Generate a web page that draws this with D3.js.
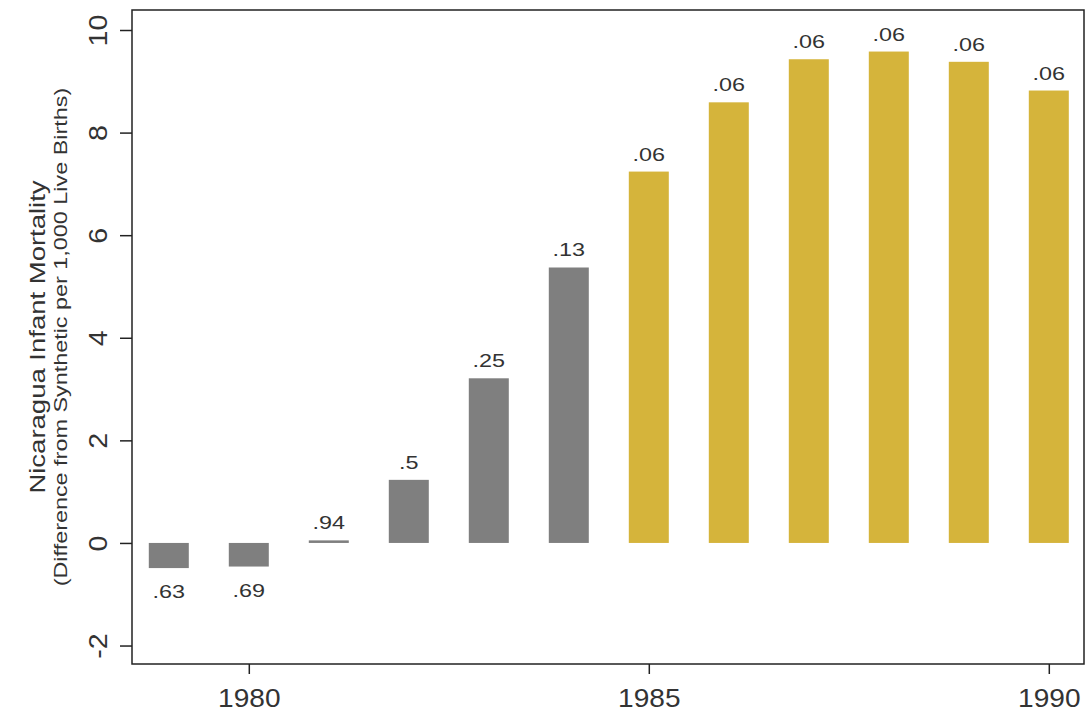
<!DOCTYPE html>
<html>
<head>
<meta charset="utf-8">
<script src="https://cdnjs.cloudflare.com/ajax/libs/d3/7.8.5/d3.min.js"></script>
<style>
  body { margin: 0; background: #fff; }
  svg text { font-family: "Liberation Sans", Arial, Helvetica, sans-serif; fill: #333; }
</style>
</head>
<body>
<svg id="chart" width="1086" height="717"></svg>
<script>
// Gap between Nicaragua and its synthetic control, infant deaths per 1,000 live births
const years = [1979, 1980, 1981, 1982, 1983, 1984, 1985, 1986, 1987, 1988, 1989, 1990];
const gaps = [-0.49, -0.46, 0.05, 1.23, 3.21, 5.37, 7.24, 8.59, 9.43, 9.58, 9.38, 8.82];
// p-values printed next to each bar
const pLabels = [".63", ".69", ".94", ".5", ".25", ".13", ".06", ".06", ".06", ".06", ".06", ".06"];
const treatmentYear = 1985;
const yTickValues = [-2, 0, 2, 4, 6, 8, 10];
const xTickValues = [1980, 1985, 1990];
const yTitle = "Nicaragua Infant Mortality";
const ySubtitle = "(Difference from Synthetic per 1,000 Live Births)";

const plot = { left: 132, right: 1084, top: 10, bottom: 664 };

const svg = d3.select("#chart");

const x = d3.scaleLinear().domain([1978.54, 1990.44]).range([plot.left, plot.right]);
const y = d3.scaleLinear().domain([-2.36, 10.39]).range([plot.bottom, plot.top]);
const barW = x(1979.5) - x(1979);   // half a year wide

const rows = years.map((yr, i) => ({ year: yr, gap: gaps[i], p: pLabels[i] }));

// bars
svg.append("g").selectAll("rect").data(rows).join("rect")
  .attr("x", d => x(d.year) - barW / 2)
  .attr("width", barW)
  .attr("y", d => y(Math.max(0, d.gap)))
  .attr("height", d => Math.abs(y(d.gap) - y(0)))
  .attr("fill", d => d.year >= treatmentYear ? "#d5b43b" : "#7f7f7f");

// p-value labels
svg.append("g").selectAll("text").data(rows).join("text")
  .attr("transform", d => {
    const ty = d.gap >= 0 ? y(d.gap) - 11 : y(d.gap) + 30;
    return `translate(${x(d.year)},${ty}) scale(1.3,1)`;
  })
  .attr("text-anchor", "middle")
  .attr("font-size", 18)
  .text(d => d.p);

// frame
svg.append("rect")
  .attr("x", plot.left).attr("y", plot.top)
  .attr("width", plot.right - plot.left).attr("height", plot.bottom - plot.top)
  .attr("fill", "none").attr("stroke", "#222").attr("stroke-width", 1.5);

const fmt = d => String(d);

// y axis
const yAxis = d3.axisLeft(y).tickValues(yTickValues).tickSize(12).tickFormat(fmt);
const gy = svg.append("g").attr("transform", `translate(${plot.left},0)`).call(yAxis);
gy.select(".domain").remove();
gy.selectAll(".tick line").attr("stroke", "#222").attr("stroke-width", 1.5);
gy.selectAll(".tick text")
  .attr("x", null).attr("dy", null)
  .attr("text-anchor", "middle")
  .attr("font-size", 26)
  .attr("transform", "translate(-25,0) rotate(-90) scale(1.1,1)")
  .style("fill", "#333");

// x axis
const xAxis = d3.axisBottom(x).tickValues(xTickValues).tickSize(10).tickFormat(fmt);
const gx = svg.append("g").attr("transform", `translate(0,${plot.bottom})`).call(xAxis);
gx.select(".domain").remove();
gx.selectAll(".tick line").attr("stroke", "#222").attr("stroke-width", 1.5);
gx.selectAll(".tick text")
  .attr("y", null).attr("dy", null)
  .attr("text-anchor", "middle")
  .attr("font-size", 26)
  .attr("transform", "translate(0,43) scale(1.08,1)")
  .style("fill", "#333");

// axis titles
const cy = (plot.top + plot.bottom) / 2;
svg.append("text")
  .attr("transform", `translate(45,${cy}) rotate(-90) scale(1.25,1)`)
  .attr("text-anchor", "middle")
  .attr("font-size", 22)
  .text(yTitle);
svg.append("text")
  .attr("transform", `translate(67,${cy}) rotate(-90) scale(1.3,1)`)
  .attr("text-anchor", "middle")
  .attr("font-size", 18)
  .text(ySubtitle);
</script>
</body>
</html>
